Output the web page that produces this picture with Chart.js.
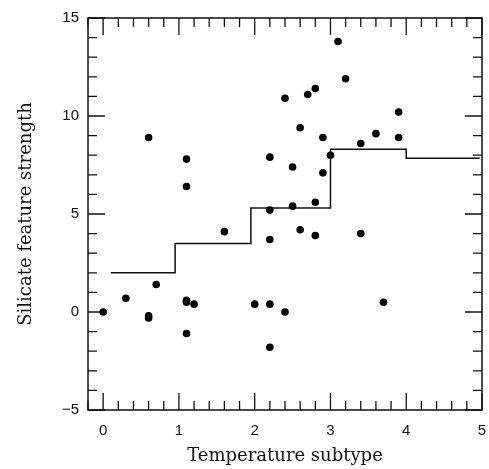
<!DOCTYPE html>
<html lang="en">
<head>
  <meta charset="UTF-8" />
  <title>Silicate feature strength vs temperature subtype</title>
  <script src="https://cdn.jsdelivr.net/npm/chart.js"></script>
  <style>
    body { margin: 0; background: #fff; }
    #chart { display: block; }
  </style>
</head>
<body>
  <canvas id="chart" width="489" height="469"></canvas>

  <script>
    // observed points (subtype, strength)
    const subtypes = [0, 0.3, 0.6, 0.6, 0.6, 0.7, 1.1, 1.1, 1.1, 1.1, 1.1, 1.2, 1.6,
      2.0, 2.2, 2.2, 2.2, 2.2, 2.2, 2.4, 2.4, 2.5, 2.5, 2.6, 2.6, 2.7, 2.8, 2.8, 2.8,
      2.9, 2.9, 3.0, 3.1, 3.2, 3.4, 3.4, 3.6, 3.7, 3.9, 3.9];
    const strengths = [0, 0.7, 8.9, -0.2, -0.3, 1.4, 7.8, 6.4, 0.6, 0.5, -1.1, 0.4, 4.1,
      0.4, 0.4, -1.8, 3.7, 5.2, 7.9, 0, 10.9, 7.4, 5.4, 9.4, 4.2, 11.1, 11.4, 5.6, 3.9,
      8.9, 7.1, 8.0, 13.8, 11.9, 8.6, 4.0, 9.1, 0.5, 8.9, 10.2];

    // binned mean (step line)
    const binEdges = [0.1, 0.95, 1.95, 3.0, 4.0, 4.97];
    const binMeans = [2.0, 3.5, 5.3, 8.3, 7.85];

    const xTicks = [0, 1, 2, 3, 4, 5];
    const yTicks = [-5, 0, 5, 10, 15];

    const points = subtypes.map((x, i) => ({ x: x, y: strengths[i] }));
    const steps = binEdges.map((x, i) => ({ x: x, y: binMeans[Math.min(i, binMeans.length - 1)] }));

    // inward ticks on all four sides + frame
    const frameTicks = {
      id: 'frameTicks',
      afterDraw(chart) {
        const { ctx, chartArea: a, scales: { x, y } } = chart;
        ctx.save();
        ctx.strokeStyle = '#111';
        ctx.lineWidth = 1.5;
        ctx.strokeRect(a.left, a.top, a.right - a.left, a.bottom - a.top);
        ctx.lineWidth = 1.3;
        ctx.beginPath();
        for (let v = -0.2; v <= 5.001; v += 0.2) {
          const val = Math.round(v * 10) / 10;
          const px = x.getPixelForValue(val);
          const len = Math.abs(val - Math.round(val)) < 1e-6 ? 17 : 9;
          ctx.moveTo(px, a.bottom); ctx.lineTo(px, a.bottom - len);
          ctx.moveTo(px, a.top); ctx.lineTo(px, a.top + len);
        }
        for (let v = -5; v <= 15; v++) {
          const py = y.getPixelForValue(v);
          const len = v % 5 === 0 ? 17 : 9;
          ctx.moveTo(a.left, py); ctx.lineTo(a.left + len, py);
          ctx.moveTo(a.right, py); ctx.lineTo(a.right - len, py);
        }
        ctx.stroke();
        ctx.restore();
      }
    };

    const tickFont = { family: '"Liberation Sans", Arial, sans-serif', size: 15 };
    const titleFont = { family: '"DejaVu Serif", serif', size: 18 };

    new Chart(document.getElementById('chart'), {
      type: 'scatter',
      data: {
        datasets: [
          {
            data: points,
            pointRadius: 3.8,
            pointBackgroundColor: '#000',
            pointBorderWidth: 0
          },
          {
            type: 'line',
            data: steps,
            stepped: 'before',
            borderColor: '#111',
            borderWidth: 1.5,
            pointRadius: 0,
            fill: false
          }
        ]
      },
      options: {
        responsive: false,
        animation: false,
        layout: { padding: { top: 18, right: 7, left: 0, bottom: 0 } },
        plugins: { legend: { display: false }, tooltip: { enabled: false } },
        scales: {
          x: {
            type: 'linear',
            min: -0.2,
            max: 5,
            afterBuildTicks: s => { s.ticks = xTicks.map(v => ({ value: v })); },
            afterFit: s => { s.height = 59; s.paddingLeft = 0; s.paddingRight = 0; },
            grid: { display: false, drawTicks: false },
            border: { display: false },
            ticks: { color: '#111', font: tickFont, padding: 12, maxRotation: 0 },
            title: { display: true, text: 'Temperature subtype', color: '#111', font: titleFont, padding: { top: 0, bottom: 2 } }
          },
          y: {
            type: 'linear',
            min: -5,
            max: 15,
            afterBuildTicks: s => { s.ticks = yTicks.map(v => ({ value: v })); },
            afterFit: s => { s.width = 88; s.paddingTop = 0; s.paddingBottom = 0; },
            grid: { display: false, drawTicks: false },
            border: { display: false },
            ticks: {
              color: '#111', font: tickFont, padding: 9,
              callback: v => (v < 0 ? '\u2212' + Math.abs(v) : String(v))
            },
            title: { display: true, text: 'Silicate feature strength', color: '#111', font: titleFont, padding: { top: 16, bottom: 0 } }
          }
        }
      },
      plugins: [frameTicks]
    });
  </script>
</body>
</html>
